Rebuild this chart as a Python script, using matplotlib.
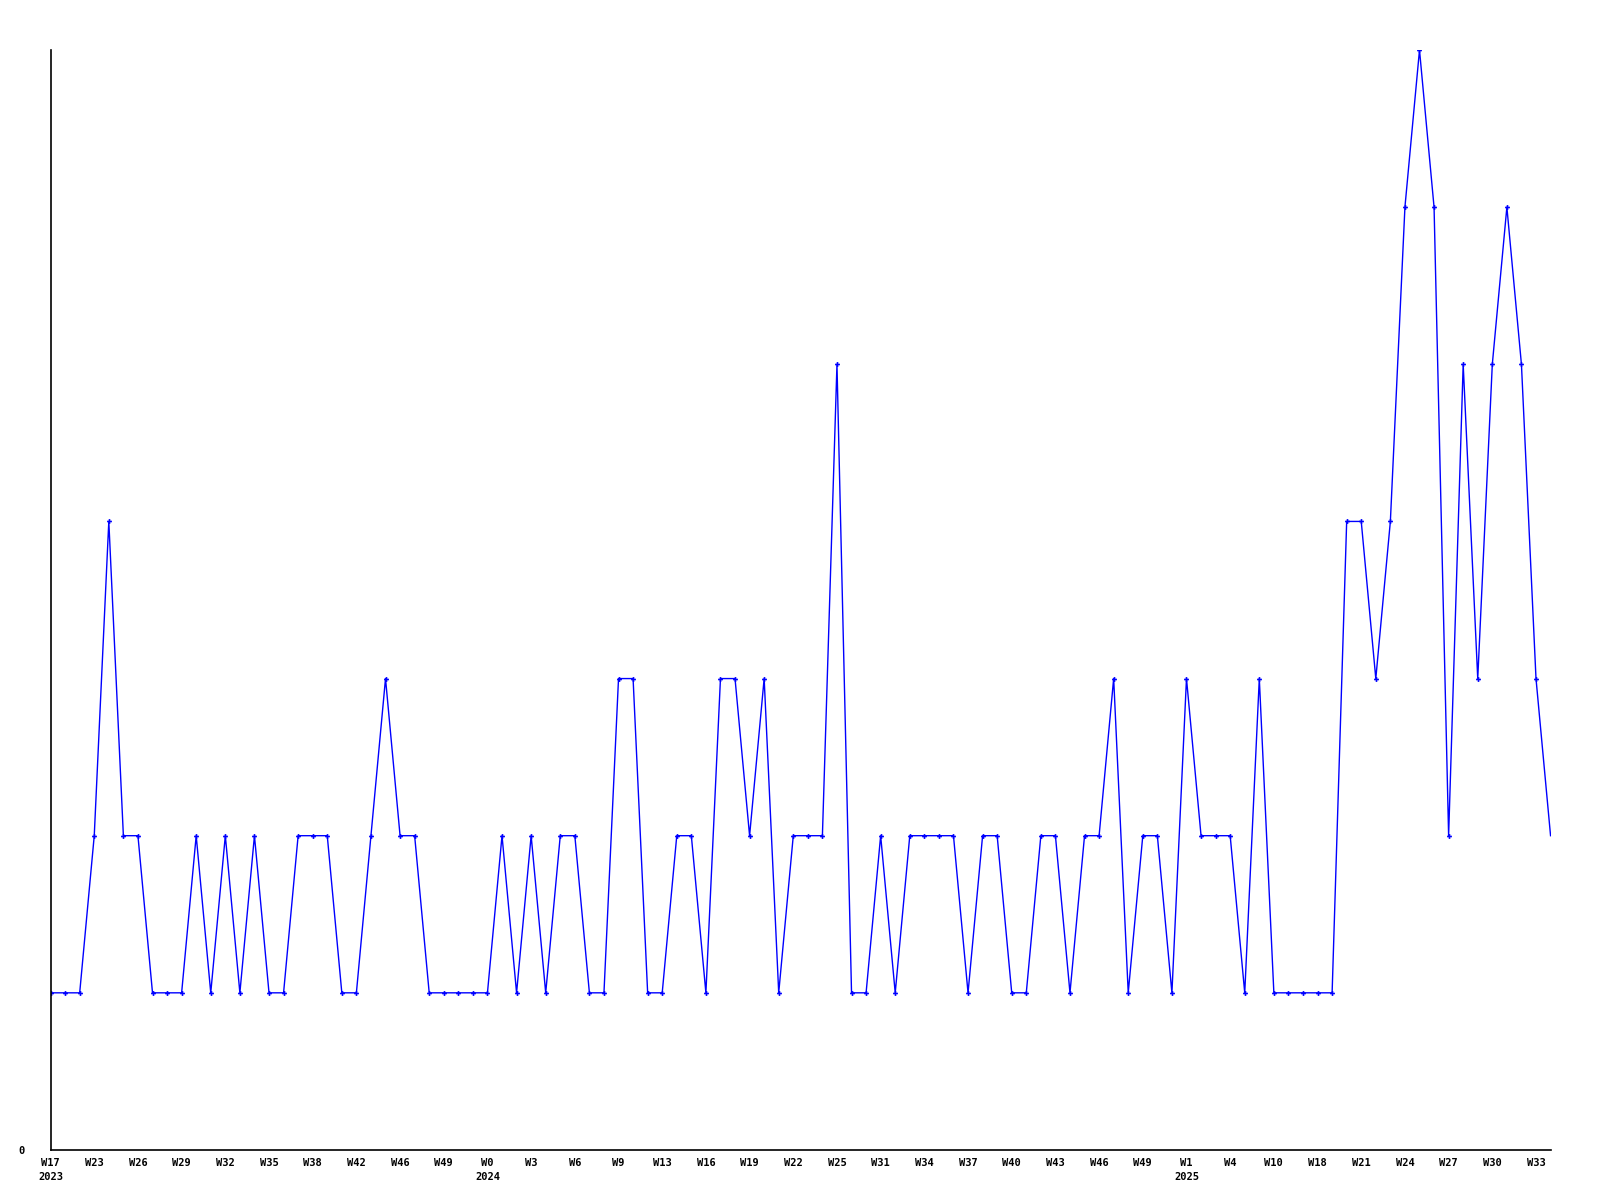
import matplotlib
matplotlib.use("Agg")
import matplotlib.pyplot as plt

# weekly counts, one per point (104 points)
values = [1, 1, 1, 2, 4, 2, 2, 1, 1, 1,
          2, 1, 2, 1, 2, 1, 1, 2, 2, 2,
          1, 1, 2, 3, 2, 2, 1, 1, 1, 1,
          1, 2, 1, 2, 1, 2, 2, 1, 1, 3,
          3, 1, 1, 2, 2, 1, 3, 3, 2, 3,
          1, 2, 2, 2, 5, 1, 1, 2, 1, 2,
          2, 2, 2, 1, 2, 2, 1, 1, 2, 2,
          1, 2, 2, 3, 1, 2, 2, 1, 3, 2,
          2, 2, 1, 3, 1, 1, 1, 1, 1, 4,
          4, 3, 4, 6, 7, 6, 2, 5, 3, 5,
          6, 5, 3, 2]

# labels shown every third point
week_labels = ["W17", "W23", "W26", "W29", "W32", "W35", "W38", "W42", "W46", "W49",
               "W0", "W3", "W6", "W9", "W13", "W16", "W19", "W22", "W25", "W31",
               "W34", "W37", "W40", "W43", "W46", "W49", "W1", "W4", "W10", "W18",
               "W21", "W24", "W27", "W30", "W33"]
year_labels = {"W17": "2023", "W0": "2024", "W1": "2025"}

fig = plt.figure(figsize=(16, 12), dpi=100)
ax = fig.add_axes([0.0316, 0.0417, 0.9375, 0.9166])

x = list(range(len(values)))
ax.plot(x, values, color="#0000ff", linewidth=1.0)
# markers on all but the last point
ax.plot(x[:-1], values[:-1], linestyle="none", marker="P", markersize=3.5,
        color="#0000ff", markeredgewidth=0)

ax.set_xlim(0, len(values) - 1)
ax.set_ylim(0, 7)

ticks = list(range(0, len(values), 3))[:len(week_labels)]
labels = []
for w in week_labels:
    if w in year_labels and year_labels[w] not in [l.split("\n")[-1] for l in labels]:
        labels.append(w + "\n" + year_labels[w])
    else:
        labels.append(w)
ax.set_xticks(ticks)
ax.set_xticklabels(labels, fontfamily="DejaVu Sans Mono", fontweight="bold",
                   fontsize=7.5, linespacing=1.45)
ax.set_yticks([0])
ax.set_yticklabels(["0"], fontfamily="DejaVu Sans Mono", fontweight="bold", fontsize=7.5)
ax.tick_params(axis="x", length=0, pad=6)
ax.tick_params(axis="y", length=0, pad=19)

for s in ["top", "right"]:
    ax.spines[s].set_visible(False)
for s in ["left", "bottom"]:
    ax.spines[s].set_linewidth(1.2)
    ax.spines[s].set_color("black")

fig.savefig("out.png", dpi=100)
